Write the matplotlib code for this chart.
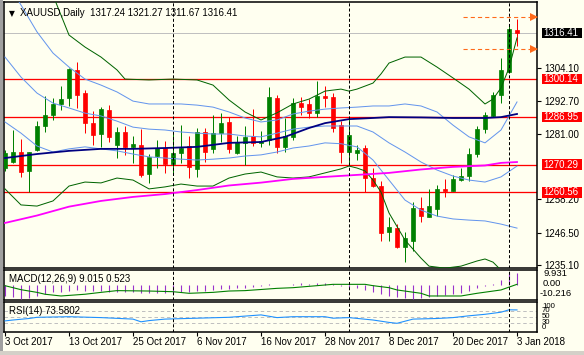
import matplotlib
matplotlib.use('Agg')
import matplotlib.pyplot as plt
import numpy as np
from matplotlib.patches import Rectangle
from matplotlib.transforms import blended_transform_factory

plt.rcParams['font.family'] = ['Liberation Sans', 'DejaVu Sans']
plt.rcParams['font.size'] = 7
plt.rcParams['lines.scale_dashes'] = False

# ---------------- data ----------------
date_labels = ["3 Oct 2017", "13 Oct 2017", "25 Oct 2017", "6 Nov 2017", "16 Nov 2017",
               "28 Nov 2017", "8 Dec 2017", "20 Dec 2017", "3 Jan 2018"]
date_label_bars = [0, 8, 16, 24, 32, 40, 48, 56, 64]
separator_bars = [21, 43, 63]

opens = [1269.1, 1271.3, 1274.8, 1268.2, 1275.4, 1283.8, 1287.6, 1291.5, 1293.5, 1303.4,
         1295.4, 1285.0, 1280.9, 1289.4, 1277.2, 1281.8, 1276.3, 1277.2, 1267.0, 1273.3,
         1276.0, 1270.5, 1274.5, 1276.8, 1268.8, 1281.8, 1275.8, 1281.5, 1285.3, 1274.5,
         1278.0, 1280.3, 1277.7, 1278.9, 1293.5, 1276.6, 1280.1, 1291.7, 1291.5, 1288.4,
         1294.3, 1293.8, 1284.1, 1274.8, 1274.3, 1276.0, 1265.5, 1262.8, 1246.8, 1248.1,
         1241.6, 1243.7, 1255.2, 1252.1, 1254.8, 1261.8, 1261.1, 1264.9, 1266.3, 1273.9,
         1282.6, 1287.3, 1294.6, 1302.8, 1317.24]
highs = [1275.4, 1282.4, 1279.3, 1274.8, 1285.7, 1294.3, 1293.5, 1297.8, 1304.2, 1306.3,
         1296.4, 1289.1, 1290.5, 1291.1, 1283.3, 1283.8, 1280.3, 1282.7, 1274.0, 1278.9,
         1278.6, 1281.0, 1284.1, 1280.3, 1283.0, 1283.0, 1287.6, 1288.4, 1287.0, 1280.3,
         1283.8, 1289.6, 1282.2, 1297.3, 1294.6, 1286.6, 1293.5, 1294.0, 1293.1, 1299.5,
         1297.8, 1295.2, 1285.5, 1286.6, 1277.2, 1277.2, 1269.0, 1264.6, 1252.1, 1249.5,
         1246.8, 1257.3, 1258.9, 1261.7, 1263.2, 1265.2, 1266.7, 1269.0, 1276.0, 1283.8,
         1288.7, 1295.8, 1307.5, 1319.1, 1321.27]
lows = [1268.1, 1270.8, 1266.1, 1260.6, 1275.2, 1281.8, 1285.9, 1289.4, 1290.8, 1290.0,
        1281.5, 1277.2, 1276.6, 1278.3, 1272.5, 1273.7, 1271.0, 1265.9, 1263.8, 1269.0,
        1267.5, 1267.3, 1270.8, 1265.5, 1265.9, 1271.3, 1274.3, 1278.3, 1274.3, 1274.0,
        1270.1, 1276.8, 1276.3, 1277.2, 1274.5, 1274.8, 1278.9, 1287.6, 1286.5, 1287.0,
        1290.5, 1281.8, 1270.8, 1270.5, 1271.9, 1260.8, 1262.6, 1243.7, 1243.7, 1241.0,
        1236.4, 1240.2, 1250.3, 1252.1, 1252.3, 1259.1, 1261.1, 1264.6, 1264.7, 1273.1,
        1281.2, 1286.8, 1291.7, 1302.4, 1311.67]
closes = [1274.4, 1274.8, 1267.8, 1274.6, 1283.8, 1287.6, 1291.5, 1293.2, 1303.7, 1294.6,
          1285.0, 1280.6, 1289.7, 1280.1, 1281.8, 1276.3, 1277.5, 1266.7, 1272.9, 1276.0,
          1270.5, 1274.3, 1276.0, 1269.6, 1281.8, 1274.8, 1281.5, 1285.0, 1275.7, 1278.3,
          1279.8, 1277.7, 1278.7, 1294.0, 1276.3, 1280.3, 1291.7, 1290.5, 1288.4, 1294.3,
          1293.7, 1283.1, 1274.8, 1280.6, 1275.4, 1265.5, 1262.8, 1246.5, 1248.4, 1241.6,
          1244.5, 1255.2, 1252.3, 1255.8, 1261.8, 1261.1, 1265.2, 1266.3, 1273.9, 1282.7,
          1287.6, 1294.6, 1303.4, 1317.6, 1316.41]

# Bollinger (blue) read at bars
bb_bars = [0, 2, 4, 6, 8, 10, 12, 14, 16, 18, 20, 22, 24, 26, 28, 30, 32, 34, 36, 38,
           40, 42, 44, 46, 48, 50, 52, 54, 56, 58, 60, 62, 64]
bb_upper = [1334.8, 1326.1, 1316.7, 1309.3, 1304.4, 1300.2, 1298.1, 1295.7, 1292.5, 1291.5,
            1291.5, 1291.5, 1291.1, 1290.4, 1288.7, 1286.6, 1285.2, 1285.9, 1288.0, 1289.0,
            1289.7, 1290.1, 1290.4, 1290.8, 1290.8, 1291.5, 1290.8, 1288.7, 1284.1, 1280.0,
            1277.9, 1282.4, 1292.2]
bb_mid = [1307.9, 1300.9, 1295.3, 1291.8, 1290.1, 1288.3, 1287.3, 1285.5, 1283.4, 1282.7,
          1282.4, 1281.7, 1281.3, 1281.0, 1281.0, 1280.3, 1280.0, 1281.3, 1282.7, 1283.4,
          1283.8, 1283.8, 1283.8, 1281.7, 1277.9, 1274.7, 1271.2, 1268.4, 1266.3, 1264.9,
          1264.2, 1266.0, 1269.8]
bb_lower = [1285.2, 1281.3, 1276.8, 1274.7, 1275.8, 1276.5, 1275.8, 1275.1, 1274.0, 1273.0,
            1272.6, 1272.2, 1271.9, 1272.2, 1272.6, 1273.3, 1273.7, 1274.7, 1276.1, 1276.8,
            1277.9, 1277.6, 1276.5, 1271.9, 1264.9, 1257.9, 1254.4, 1252.3, 1251.3, 1250.9,
            1250.6, 1249.5, 1248.1]

# wide envelope (green)
gu_bars = [0, 4, 6, 8, 10, 12, 14, 15, 18, 21, 24, 26, 28, 30, 32, 34, 36, 38, 40, 42,
           43, 44, 46, 47, 48, 50, 52, 54, 56, 58, 60, 61, 62, 63, 64]
green_upper = [1352.0, 1336.6, 1329.5, 1315.6, 1311.4, 1307.9, 1303.4, 1300.2, 1299.9, 1300.2,
               1299.9, 1298.1, 1292.9, 1288.7, 1285.9, 1288.4, 1291.5, 1293.2, 1296.0, 1296.7,
               1296.0, 1296.7, 1298.8, 1302.0, 1305.8, 1307.9, 1307.9, 1304.4, 1300.6, 1296.7,
               1291.5, 1293.2, 1297.1, 1304.1, 1314.6]
gl_bars = [0, 2, 4, 6, 8, 10, 12, 14, 16, 18, 20, 22, 24, 26, 28, 30, 32, 34, 36, 38,
           40, 42, 43, 44, 45, 46, 47, 48, 50, 52, 53, 55, 57, 59, 60, 61, 62, 63, 64]
green_lower = [1261.8, 1256.2, 1255.8, 1257.6, 1262.8, 1264.2, 1263.9, 1265.6, 1264.9, 1261.8,
               1262.5, 1263.5, 1262.8, 1262.8, 1265.6, 1267.0, 1267.7, 1266.0, 1265.6, 1266.0,
               1267.4, 1268.8, 1269.8, 1269.1, 1268.1, 1264.9, 1260.7, 1253.4, 1243.9, 1237.6,
               1234.8, 1234.1, 1234.8, 1236.6, 1237.3, 1236.2, 1233.4, 1228.2, 1223.0]

navy_bars = [0, 4, 8, 12, 16, 20, 24, 28, 32, 35, 38, 40, 43, 46, 48, 52, 56, 60, 62, 64]
navy_ma = [1272.6, 1274.0, 1275.1, 1275.8, 1275.8, 1276.1, 1276.5, 1277.9, 1278.2, 1280.0,
           1283.1, 1284.8, 1286.2, 1286.6, 1286.9, 1286.8, 1286.6, 1286.6, 1286.9, 1288.0]

mag_bars = [0, 4, 8, 12, 16, 20, 24, 28, 32, 36, 40, 44, 48, 52, 56, 60, 62, 64]
magenta_ma = [1249.9, 1252.5, 1255.6, 1257.6, 1259.0, 1260.0, 1261.4, 1263.0, 1264.0, 1265.3,
              1266.0, 1266.7, 1267.4, 1268.6, 1269.5, 1270.0, 1270.9, 1271.2]

level_prices = [1300.14, 1286.95, 1270.29, 1260.56]
last_price = 1316.41
target_prices = [1322.0, 1310.6]
target_start_bar = 57.3
price_ticks = [1304.10, 1292.70, 1281.00, 1258.20, 1246.50, 1235.10]

macd_hist = [-8.5, -9.3, -10.2, -9.8, -8.0, -6.5, -5.5, -5.0, -4.5, -4.0,
             -4.2, -4.5, -4.5, -5.0, -5.2, -5.5, -5.5, -6.0, -6.0, -5.8,
             -6.0, -6.0, -5.5, -5.5, -4.5, -4.5, -3.8, -3.0, -3.0, -2.5,
             -2.0, -1.2, -1.0, 0.8, 0.2, 0.3, 1.0, 1.2, 1.0, 1.5,
             1.5, 0.5, -1.0, -1.5, -2.5, -4.0, -5.5, -6.8, -8.0, -9.0,
             -10.0, -10.216, -9.5, -9.0, -8.5, -7.5, -7.0, -6.0, -4.5, -2.5,
             -1.0, 1.0, 4.0, 9.931, 9.015]
sig_bars = [0, 2, 4, 5, 7, 10, 12, 14, 18, 21, 23, 26, 28, 30, 34, 36, 40, 41, 45, 46,
            48, 49, 52, 53, 57, 59, 62, 64]
macd_signal = [-0.5, -3.5, -5.5, -6.9, -8.2, -6.9, -5.5, -4.2, -4.5, -5.0, -6.2, -5.5, -4.5,
               -4.2, -2.5, -2.0, 0.0, 0.5, 0.5, -0.5, -2.0, -3.7, -6.2, -8.2, -8.2, -6.2,
               -3.7, 0.523]

rsi_bars = [0, 1, 3, 4, 8, 12, 16, 17, 18, 20, 24, 28, 32, 34, 36, 40, 41, 43, 46, 48,
            49, 50, 51, 54, 56, 58, 60, 62, 63, 64]
rsi_vals = [37, 40, 45, 49, 51, 48, 43, 34, 38, 43, 46, 49, 57, 48, 51, 51, 46, 48, 40, 32,
            29, 36, 43, 45, 48, 54, 59, 66, 74, 73.58]
rsi_levels = [70, 50, 30]
rsi_scale_labels = ['100', '70', '50', '30', '0']

# ---------------- style ----------------
W, H = 584, 355
BG = '#fffff0'
GREEN = '#008000'
RED = '#ff0000'
PX = 0.72  # one pixel in points

fig = plt.figure(figsize=(W / 100, H / 100), dpi=100)
fig.patch.set_facecolor(BG)


def box(x0, y0, x1, y1):
    return [x0 / W, 1 - y1 / H, (x1 - x0) / W, (y1 - y0) / H]


def ftext(x, y, s, **kw):
    fig.text(x / W, 1 - y / H, s, **kw)


ax = fig.add_axes(box(4, 2, 537, 268))
axm = fig.add_axes(box(4, 270, 537, 300), sharex=ax)
axr = fig.add_axes(box(4, 302, 537, 332), sharex=ax)

for a in (ax, axm, axr):
    a.set_facecolor(BG)
    for sp in a.spines.values():
        sp.set_color('black')
        sp.set_linewidth(1.1)
    a.tick_params(left=False, labelleft=False, bottom=False, labelbottom=False)

ax.set_xlim(-0.125, 66.5)
ax.set_ylim(1234.15, 1327.15)
axm.set_ylim(-11.2, 11.2)
axr.set_ylim(0, 100)

# ---------- main panel ----------
o = np.array(opens); h = np.array(highs); l = np.array(lows); c = np.array(closes)
x = np.arange(len(o))
up = c >= o
dn = ~up
ax.vlines(x[up], l[up], h[up], color=GREEN, lw=1.0 * PX, zorder=3)
ax.vlines(x[dn], l[dn], h[dn], color=RED, lw=1.0 * PX, zorder=3)
ax.bar(x[up], (c - o)[up], bottom=o[up], width=0.6, color=GREEN, edgecolor=GREEN,
       linewidth=0.5, zorder=4)
ax.bar(x[dn], (c - o)[dn], bottom=o[dn], width=0.6, color=RED, edgecolor=RED,
       linewidth=0.5, zorder=4)

for p in level_prices:
    ax.axhline(p, color=RED, lw=1.3 * PX, zorder=2)
ax.axhline(last_price, color='#c0c0c0', lw=1.0 * PX, zorder=1)

ax.plot(bb_bars, bb_upper, color='#6495ed', lw=1 * PX, zorder=5)
ax.plot(bb_bars, bb_mid, color='#6495ed', lw=1 * PX, zorder=5)
ax.plot(bb_bars, bb_lower, color='#6495ed', lw=1 * PX, zorder=5)
ax.plot(gu_bars, green_upper, color='#006400', lw=1 * PX, zorder=5)
ax.plot(gl_bars, green_lower, color='#006400', lw=1 * PX, zorder=5)
ax.plot(navy_bars, navy_ma, color='#000080', lw=1.8 * PX, zorder=5)
ax.plot(mag_bars, magenta_ma, color='#ff00ff', lw=1.8 * PX, zorder=5)

for p in target_prices:
    ax.plot([target_start_bar, 66.5], [p, p], color='#ff6a1a', lw=1.1 * PX,
            dashes=(3, 2.2), zorder=6)
    ax.plot([66.1], [p], marker='>', color='#ff6a1a', markersize=5.5,
            markeredgewidth=0, zorder=6)

for a in (ax, axm, axr):
    for b in separator_bars:
        a.axvline(b, color='black', lw=1 * PX, dashes=(2.2, 1.5), zorder=7)

# right price scale
ax.yaxis.set_ticks_position('right')
ax.set_yticks(price_ticks)
ax.set_yticklabels([f"{p:.2f}" for p in price_ticks])
ax.tick_params(axis='y', right=True, labelright=True, length=3, width=0.8, pad=2.5,
               labelsize=7, colors='black')

tr = blended_transform_factory(fig.transFigure, ax.transData)
half = 5.2 / 2.86
for p, fc in [(last_price, 'black')] + [(q, RED) for q in level_prices]:
    ax.add_patch(Rectangle((541.5 / W, p - half), (582 - 541.5) / W, 2 * half,
                           transform=tr, facecolor=fc, edgecolor='none',
                           clip_on=False, zorder=10))
    ax.text(543.5 / W, p, f"{p:.2f}", transform=tr, color='white', va='center',
            ha='left', fontsize=7, zorder=11, clip_on=False)

# title
ftext(9, 13.5, '\u25bc', fontsize=5.5, va='center', ha='left',
      family=['DejaVu Sans'])
ftext(20, 13.5, 'XAUUSD,Daily  1317.24 1321.27 1311.67 1316.41', va='center',
      ha='left', fontsize=7)

# ---------- MACD ----------
axm.vlines(x, 0, macd_hist, color='#9932cc', lw=1.1 * PX, zorder=3)
axm.plot(sig_bars, macd_signal, color=GREEN, lw=1.1 * PX, zorder=4)
ftext(9, 278.5, 'MACD(12,26,9) 9.015 0.523', va='center', ha='left', fontsize=7)
ftext(543, 273, '9.931', va='center', ha='left', fontsize=6.8)
ftext(543, 283.2, '0.00', va='center', ha='left', fontsize=6.8)
ftext(540, 293.8, '-10.216', va='center', ha='left', fontsize=6.8)

# ---------- RSI ----------
for lv in rsi_levels:
    axr.axhline(lv, color='#c0c0c0', lw=1 * PX, dashes=(2.5, 2), zorder=1)
axr.plot(rsi_bars, rsi_vals, color='#1e90ff', lw=1.1 * PX, zorder=3)
ftext(9, 310.5, 'RSI(14) 73.5802', va='center', ha='left', fontsize=7)
for s, yy in zip(rsi_scale_labels, [306.5, 311, 317, 323, 327.5]):
    ftext(542, yy, s, va='center', ha='left', fontsize=5.6)

axr.set_xticks(date_label_bars)
axr.set_xticklabels(date_labels, ha='left')
axr.tick_params(axis='x', bottom=True, labelbottom=True, length=2.8, width=0.8, pad=0.5,
                labelsize=7)

# window frame
fig.add_artist(Rectangle((0, 0), 3 / W, 1, transform=fig.transFigure,
                         facecolor='#a0a0a0', edgecolor='none'))
fig.add_artist(Rectangle((0, 0), 1, 4 / H, transform=fig.transFigure,
                         facecolor='#d4d0c8', edgecolor='none'))

fig.savefig('out.png', dpi=100, facecolor=BG)
